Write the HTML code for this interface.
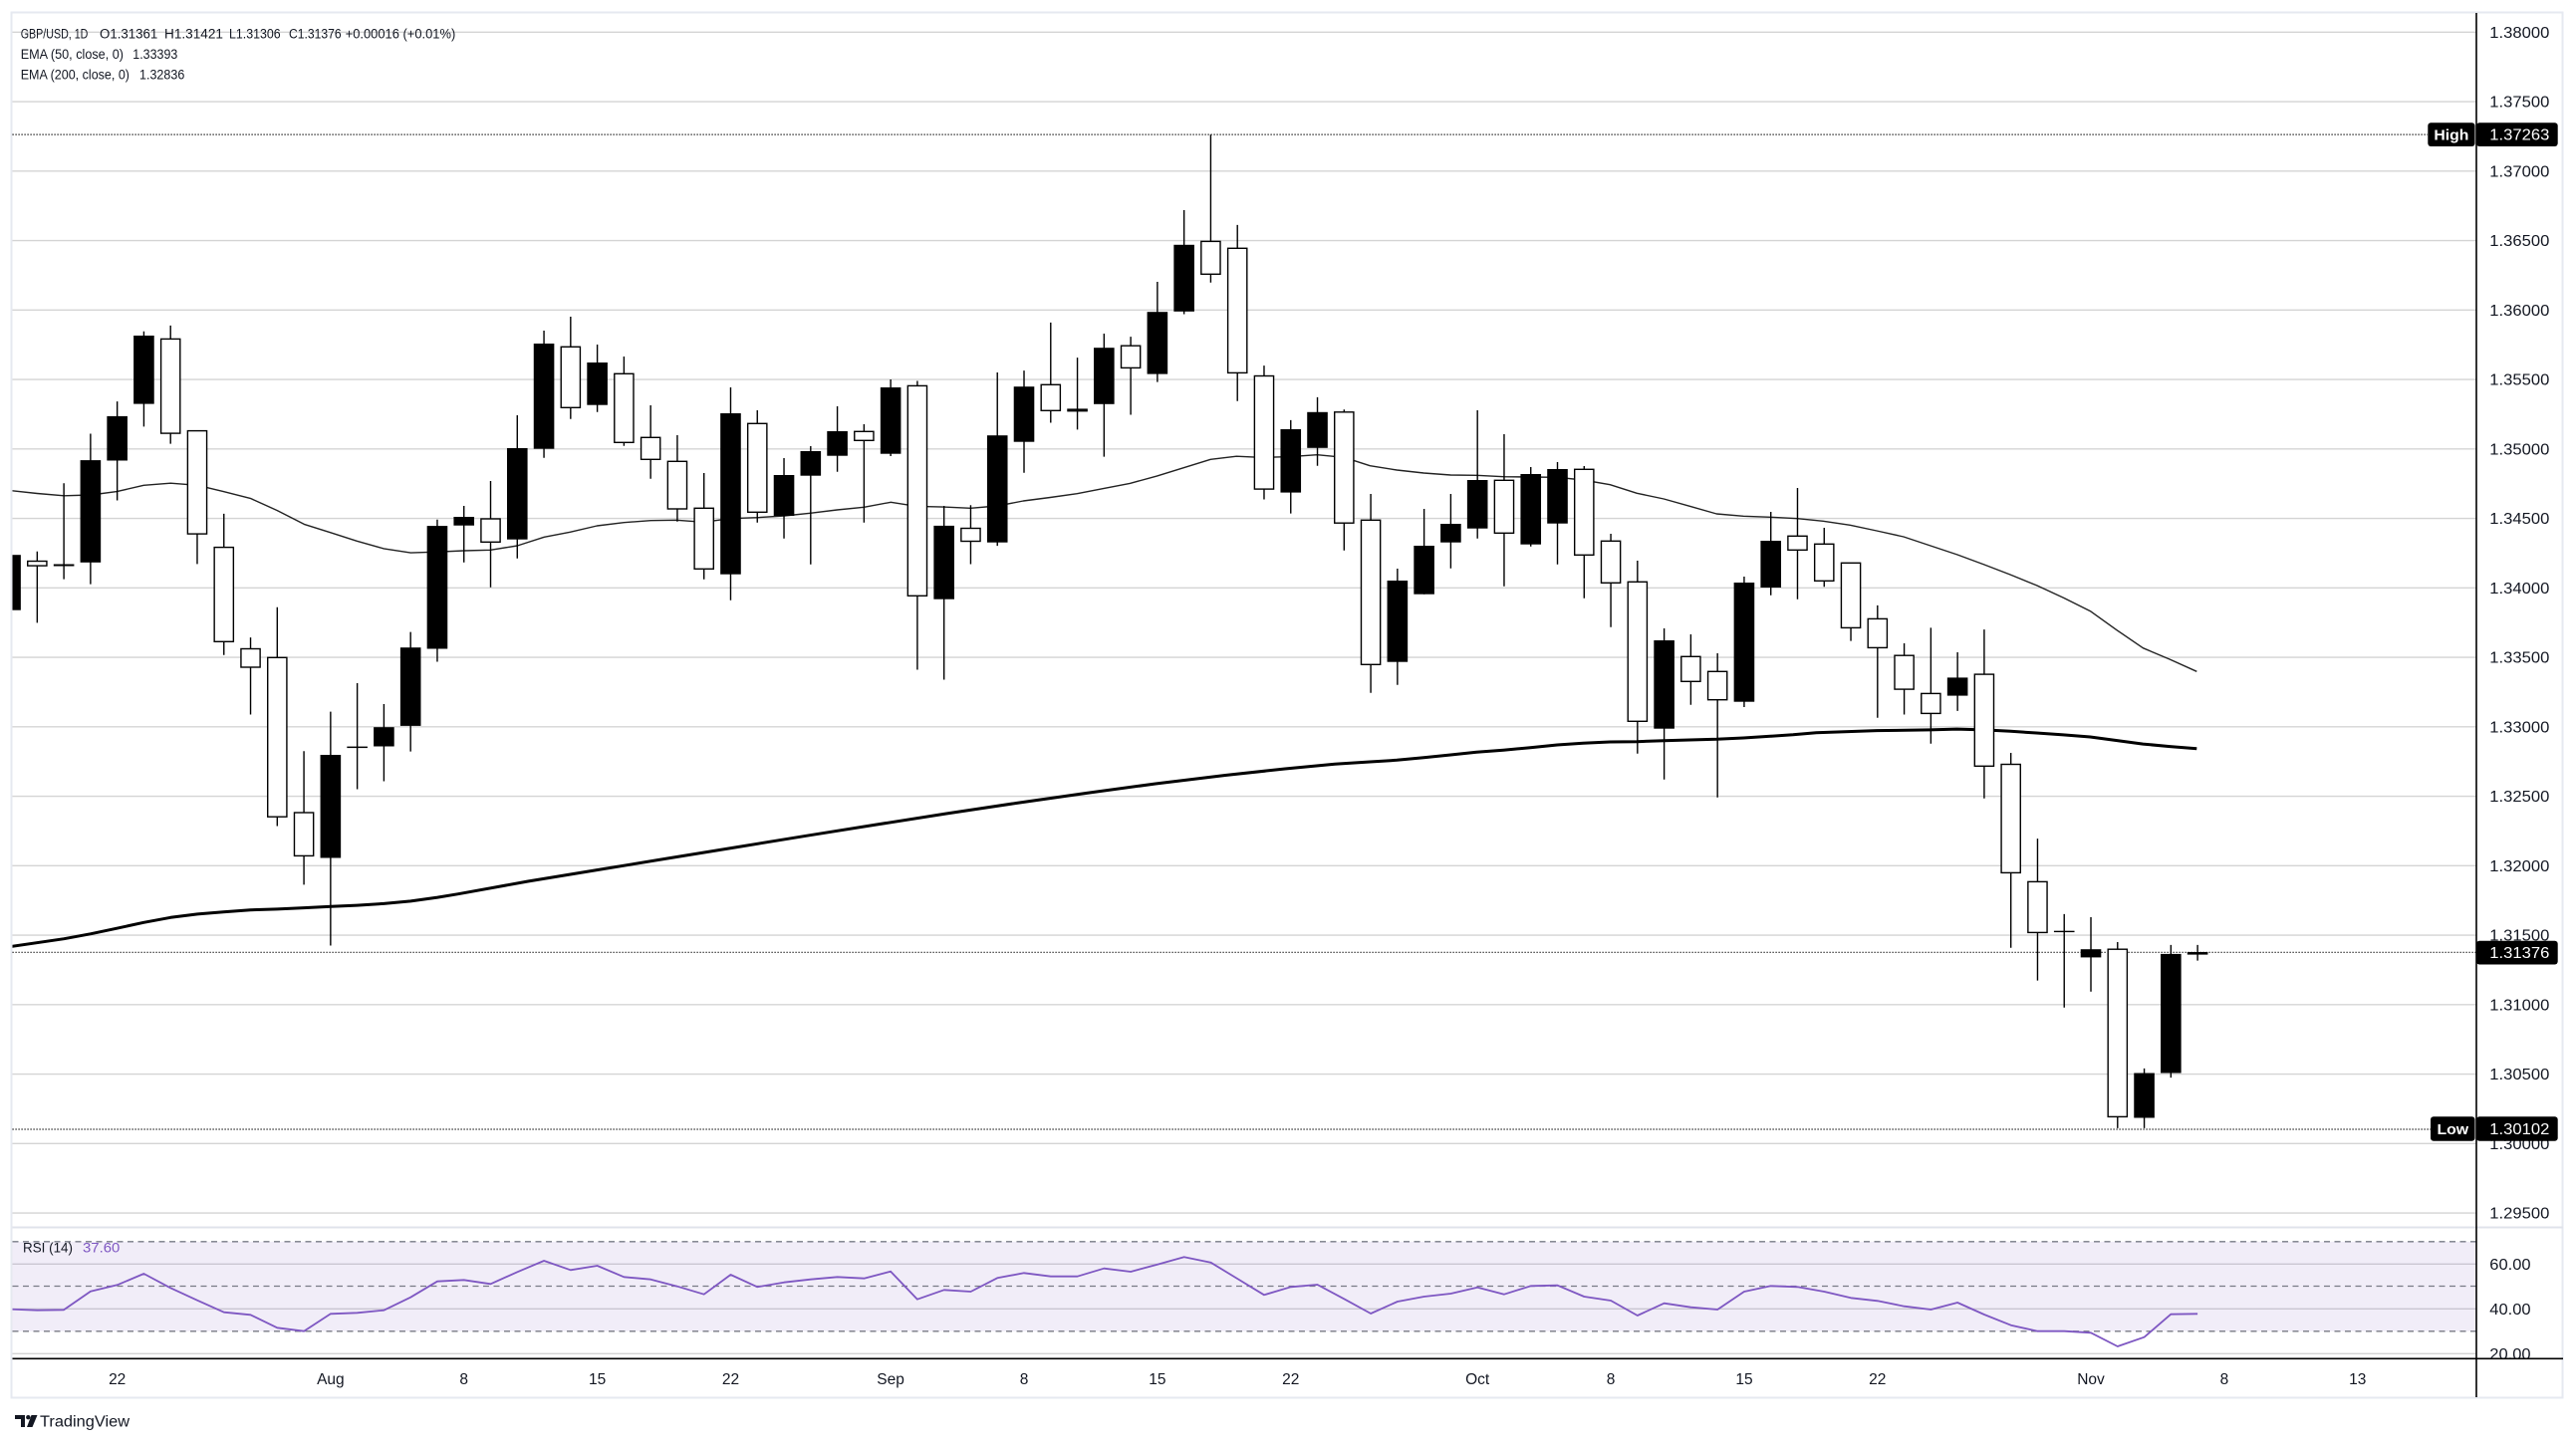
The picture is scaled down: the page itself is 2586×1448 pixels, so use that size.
<!DOCTYPE html>
<html><head><meta charset="utf-8"><style>
html,body{margin:0;padding:0;background:#fff;}
svg{display:block;font-family:"Liberation Sans",sans-serif;}
</style></head><body>
<svg width="2586" height="1448" viewBox="0 0 2586 1448" xmlns="http://www.w3.org/2000/svg">
<defs>
<clipPath id="pp"><rect x="12.5" y="13" width="2473" height="1219"/></clipPath>
<clipPath id="rp"><rect x="12.5" y="1233" width="2473" height="131"/></clipPath>
<clipPath id="ra"><rect x="2487" y="1233" width="86" height="131"/></clipPath>
</defs>
<rect x="0" y="0" width="2586" height="1448" fill="#fff"/>
<!-- frame -->
<rect x="11.5" y="12.5" width="2561" height="1391" fill="none" stroke="#e6e9f0" stroke-width="2"/>
<!-- price grid -->
<g stroke="#d4d4d4" stroke-width="1.3">
<line x1="12.5" x2="2486" y1="32.3" y2="32.3"/><line x1="12.5" x2="2486" y1="102.05" y2="102.05"/><line x1="12.5" x2="2486" y1="171.8" y2="171.8"/><line x1="12.5" x2="2486" y1="241.55" y2="241.55"/><line x1="12.5" x2="2486" y1="311.3" y2="311.3"/><line x1="12.5" x2="2486" y1="381.05" y2="381.05"/><line x1="12.5" x2="2486" y1="450.8" y2="450.8"/><line x1="12.5" x2="2486" y1="520.55" y2="520.55"/><line x1="12.5" x2="2486" y1="590.3" y2="590.3"/><line x1="12.5" x2="2486" y1="660.05" y2="660.05"/><line x1="12.5" x2="2486" y1="729.8" y2="729.8"/><line x1="12.5" x2="2486" y1="799.55" y2="799.55"/><line x1="12.5" x2="2486" y1="869.3" y2="869.3"/><line x1="12.5" x2="2486" y1="939.05" y2="939.05"/><line x1="12.5" x2="2486" y1="1008.8" y2="1008.8"/><line x1="12.5" x2="2486" y1="1078.55" y2="1078.55"/><line x1="12.5" x2="2486" y1="1148.3" y2="1148.3"/><line x1="12.5" x2="2486" y1="1218.05" y2="1218.05"/>
</g>
<!-- dotted lines -->
<g stroke="#000" stroke-width="1.2" stroke-dasharray="1.2 1.8">
<line x1="12.5" x2="2437" y1="135.1" y2="135.1"/>
<line x1="12.5" x2="2486" y1="956.3" y2="956.3"/>
<line x1="12.5" x2="2440" y1="1134" y2="1134"/>
</g>
<g clip-path="url(#pp)">
<!-- EMA 200 -->
<polyline fill="none" stroke="#000" stroke-width="3" stroke-linejoin="round" points="12,950.3 64.3,942.7 91.3,937.7 117.3,932.2 144.3,926.3 171.3,921.3 198.3,917.9 224.3,915.8 251.3,913.7 278.3,912.9 305.3,911.6 332.3,910.3 358.3,909.1 385.3,907.4 412.3,904.9 439.3,901.1 460,897.7 530,885 600,873.5 670,862 740,850.6 810,839.2 880,828 950,817 1020,806.5 1090,796.5 1160,787 1230,778.5 1290,772 1340,767.3 1375.3,765 1402.3,763.3 1429.3,760.7 1456.3,758 1482.3,755.3 1509.3,753.3 1536.3,750.7 1563.3,748 1589.3,746.3 1616.3,745 1643.3,744.7 1670.3,743.7 1696.3,743 1723.3,742.3 1750.3,741 1777.3,739.3 1800,737.8 1823.3,735.7 1884.3,733.6 1937.3,732.9 1964.3,732.1 1991.3,732.9 2018.3,734.3 2044.3,736 2071.3,737.9 2098.3,740 2125.3,743.6 2151.3,747.1 2178.3,749.6 2205.3,751.8"/>
<!-- EMA 50 -->
<polyline fill="none" stroke="#222" stroke-width="1.4" stroke-linejoin="round" points="12,492.8 37.3,495.5 64.3,497.8 91.3,497 117.3,493.6 144.3,487.3 171.3,485.2 198.3,487.3 224.3,493.6 251.3,500.4 278.3,512.6 305.3,526.4 332.3,534.9 358.3,543.3 385.3,550.9 412.3,555.1 439.3,554.2 465.3,553 492.3,552.3 519.3,548 546.3,539.3 572.3,534.3 599.3,528 626.3,524.7 653.3,522.7 679.3,522.3 706.3,524.3 733.3,520.7 760.3,519.7 787.3,518 813.3,515.3 840.3,512 867.3,509.3 894.3,504.3 920.3,508.4 947.3,509.1 974.3,510.3 1001.3,508 1027.3,503 1054.3,499.5 1081.3,495.7 1108.3,490.4 1134.3,485.4 1161.3,478.1 1188.3,469.7 1215.3,461.3 1241.3,458.2 1268.3,459.4 1295.3,458.6 1322.3,456.7 1349.3,459.3 1375.3,467.7 1402.3,472 1429.3,475 1456.3,477 1482.3,477.3 1509.3,478.7 1536.3,479 1563.3,479.3 1589.3,482 1616.3,486.7 1643.3,495.3 1670.3,501 1696.3,508.3 1723.3,516 1750.3,518.3 1777.3,519.3 1804.3,520.7 1830.3,523.3 1857.3,527.3 1884,533 1911,539 1938,548 1965,557 1992,567 2018,577 2045,588 2072,600.5 2098.3,613.6 2125.3,632.9 2151.3,650.7 2178.3,662.1 2205.3,674.3"/>
<!-- wicks -->
<path fill="none" stroke="#000" stroke-width="1.4" d="M10.56 553V616M37.33 553.8V625.4M64.11 485.2V581.6M90.88 435.5V586.6M117.66 403.1V502.5M144.43 332.8V428.4M171.21 326.9V445.6M197.98 432.6V566.4M224.76 515.9V657.8M251.53 640.1V717.5M278.31 609.8V829.5M305.08 754.2V888.4M331.86 714.6V949.5M358.63 686V792.5M385.41 707V784.5M412.18 634.6V754.6M438.96 521.8V664.5M465.73 508V564.7M492.51 483V589.7M519.28 417V560.7M546.06 332V459.7M572.83 318V420.7M599.61 346V413.7M626.38 358V447.7M653.16 407V480.7M679.93 437V523.7M706.71 475V581.7M733.48 389V602.7M760.26 412V524.7M787.03 460V540.7M813.81 448V566.7M840.58 408V473.7M867.36 426V524.7M894.13 381V458M920.91 382.5V672.5M947.68 508V682.5M974.46 507.2V566.5M1001.23 374V548.1M1028.01 372.1V474.7M1054.78 323.9V424.5M1081.56 359.1V431.4M1108.33 335V458.6M1135.11 338.1V416.5M1161.88 283V383.6M1188.66 211V315.5M1215.43 135.3V283.7M1242.21 225.9V402.7M1268.98 367.1V501.5M1295.76 421.9V515.6M1322.53 398.9V467.8M1349.31 411.2V552.7M1376.08 496V695.7M1402.86 571V687.7M1429.63 511V596.7M1456.41 496V570.7M1483.18 412V540.7M1509.96 436V588.7M1536.73 469V548.7M1563.51 464V566.7M1590.28 468V600.7M1617.06 536V629.7M1643.83 563V756.7M1670.61 631V782.7M1697.38 637V707.7M1724.16 656V800.7M1750.93 579V710M1777.71 514V597.7M1804.48 490V601.7M1831.26 530V589.3M1858.03 565.3V643.6M1884.81 607.9V720.7M1911.58 646V717.5M1938.36 630.4V746.8M1965.13 655V713.9M1991.91 632.1V801.8M2018.68 756V951.8M2045.46 842.1V984.6M2072.23 917.9V1011.8M2099.01 921V995.7M2125.78 946V1132.9M2152.56 1072.9V1132.9M2179.33 948.9V1082.1M2206.11 948.9V964.6"/>
<!-- up (filled) bodies -->
<g fill="#000">
<rect x="0.26" y="557.2" width="20.6" height="55.5"/>
<rect x="53.81" y="566.5" width="20.6" height="2"/>
<rect x="80.58" y="462.1" width="20.6" height="102.7"/>
<rect x="107.36" y="417.9" width="20.6" height="44.6"/>
<rect x="134.13" y="337" width="20.6" height="68.6"/>
<rect x="321.56" y="758" width="20.6" height="103.5"/>
<rect x="348.33" y="749.6" width="20.6" height="1.5"/>
<rect x="375.11" y="730.2" width="20.6" height="19.3"/>
<rect x="401.88" y="650.2" width="20.6" height="78.7"/>
<rect x="428.66" y="528.1" width="20.6" height="123.4"/>
<rect x="455.43" y="519" width="20.6" height="8.7"/>
<rect x="508.98" y="450" width="20.6" height="91.7"/>
<rect x="535.76" y="345" width="20.6" height="105.7"/>
<rect x="589.31" y="364" width="20.6" height="42.7"/>
<rect x="723.18" y="415" width="20.6" height="161.7"/>
<rect x="776.73" y="477" width="20.6" height="41"/>
<rect x="803.51" y="453" width="20.6" height="24.7"/>
<rect x="830.28" y="433" width="20.6" height="24.7"/>
<rect x="883.83" y="389" width="20.6" height="66.7"/>
<rect x="937.38" y="527.9" width="20.6" height="73.8"/>
<rect x="990.93" y="437.2" width="20.6" height="107.5"/>
<rect x="1017.71" y="388.2" width="20.6" height="55.5"/>
<rect x="1071.26" y="410.4" width="20.6" height="3"/>
<rect x="1098.03" y="349.2" width="20.6" height="56.6"/>
<rect x="1151.58" y="313.2" width="20.6" height="62.4"/>
<rect x="1178.36" y="245.8" width="20.6" height="67"/>
<rect x="1285.46" y="431" width="20.6" height="63.6"/>
<rect x="1312.23" y="413.8" width="20.6" height="36"/>
<rect x="1392.56" y="583" width="20.6" height="81.7"/>
<rect x="1419.33" y="548" width="20.6" height="48.7"/>
<rect x="1446.11" y="526" width="20.6" height="18.7"/>
<rect x="1472.88" y="482" width="20.6" height="48.7"/>
<rect x="1526.43" y="476" width="20.6" height="70.7"/>
<rect x="1553.21" y="471" width="20.6" height="54.7"/>
<rect x="1660.31" y="643" width="20.6" height="88.7"/>
<rect x="1740.63" y="585" width="20.6" height="119.7"/>
<rect x="1767.41" y="543" width="20.6" height="47"/>
<rect x="1954.83" y="680.4" width="20.6" height="18.2"/>
<rect x="2061.93" y="934.7" width="20.6" height="1.4"/>
<rect x="2088.71" y="953.2" width="20.6" height="8.2"/>
<rect x="2142.26" y="1077.5" width="20.6" height="45"/>
<rect x="2169.03" y="957.9" width="20.6" height="119.6"/>
<rect x="2195.81" y="956" width="20.6" height="2.6"/>
</g>
<!-- down (hollow) bodies -->
<g fill="#fff" stroke="#000" stroke-width="1.4">
<rect x="27.73" y="563.5" width="19.2" height="4.6"/>
<rect x="161.61" y="340.4" width="19.2" height="94.7"/>
<rect x="188.38" y="432.6" width="19.2" height="103.5"/>
<rect x="215.16" y="549.6" width="19.2" height="94.7"/>
<rect x="241.93" y="651.5" width="19.2" height="18.5"/>
<rect x="268.71" y="660.3" width="19.2" height="159.9"/>
<rect x="295.48" y="816" width="19.2" height="43.4"/>
<rect x="482.91" y="521" width="19.2" height="23.3"/>
<rect x="563.23" y="348.3" width="19.2" height="61"/>
<rect x="616.78" y="375.3" width="19.2" height="69"/>
<rect x="643.56" y="439.3" width="19.2" height="22"/>
<rect x="670.33" y="463.3" width="19.2" height="47.7"/>
<rect x="697.11" y="510.3" width="19.2" height="61"/>
<rect x="750.66" y="425.3" width="19.2" height="89"/>
<rect x="857.76" y="433.3" width="19.2" height="9"/>
<rect x="911.31" y="387.4" width="19.2" height="210.9"/>
<rect x="964.86" y="530.5" width="19.2" height="13"/>
<rect x="1045.18" y="386.3" width="19.2" height="26"/>
<rect x="1125.51" y="347.2" width="19.2" height="22.2"/>
<rect x="1205.83" y="242.4" width="19.2" height="32.9"/>
<rect x="1232.61" y="249.3" width="19.2" height="125.1"/>
<rect x="1259.38" y="377.5" width="19.2" height="113.6"/>
<rect x="1339.71" y="413.8" width="19.2" height="111.4"/>
<rect x="1366.48" y="522.3" width="19.2" height="145"/>
<rect x="1500.36" y="482.3" width="19.2" height="53"/>
<rect x="1580.68" y="471.3" width="19.2" height="86"/>
<rect x="1607.46" y="543.3" width="19.2" height="42"/>
<rect x="1634.23" y="584.3" width="19.2" height="140"/>
<rect x="1687.78" y="659.3" width="19.2" height="25"/>
<rect x="1714.56" y="674.3" width="19.2" height="28.4"/>
<rect x="1794.88" y="538.3" width="19.2" height="14"/>
<rect x="1821.66" y="546.3" width="19.2" height="37"/>
<rect x="1848.43" y="565.3" width="19.2" height="65.1"/>
<rect x="1875.21" y="621.4" width="19.2" height="29"/>
<rect x="1901.98" y="658.2" width="19.2" height="33.9"/>
<rect x="1928.76" y="696.4" width="19.2" height="20"/>
<rect x="1982.31" y="677.1" width="19.2" height="92.2"/>
<rect x="2009.08" y="767.5" width="19.2" height="108.9"/>
<rect x="2035.86" y="885.4" width="19.2" height="51"/>
<rect x="2116.18" y="953.2" width="19.2" height="168.2"/>
</g>
</g>
<!-- legend -->
<g font-size="13.5" fill="#131722">
<text x="20.7" y="38.3" textLength="67.7" lengthAdjust="spacingAndGlyphs">GBP/USD, 1D</text>
<text x="100" y="38.3" textLength="58.3" lengthAdjust="spacingAndGlyphs">O1.31361</text>
<text x="165" y="38.3" textLength="59" lengthAdjust="spacingAndGlyphs">H1.31421</text>
<text x="230" y="38.3" textLength="51.7" lengthAdjust="spacingAndGlyphs">L1.31306</text>
<text x="290" y="38.3" textLength="52.7" lengthAdjust="spacingAndGlyphs">C1.31376</text>
<text x="346.7" y="38.3" textLength="110.6" lengthAdjust="spacingAndGlyphs">+0.00016 (+0.01%)</text>
<text x="20.7" y="58.8" textLength="103.3" lengthAdjust="spacingAndGlyphs">EMA (50, close, 0)</text>
<text x="133.3" y="58.8" textLength="45" lengthAdjust="spacingAndGlyphs">1.33393</text>
<text x="20.7" y="79.3" textLength="109.3" lengthAdjust="spacingAndGlyphs">EMA (200, close, 0)</text>
<text x="140" y="79.3" textLength="45.3" lengthAdjust="spacingAndGlyphs">1.32836</text>
</g>
<!-- pane separator -->
<line x1="12.5" x2="2573" y1="1232.5" y2="1232.5" stroke="#e0e3eb" stroke-width="2"/>
<!-- RSI pane -->
<g stroke="#d4d4d4" stroke-width="1.3">
<line x1="12.5" x2="2486" y1="1269.3" y2="1269.3"/>
<line x1="12.5" x2="2486" y1="1314.3" y2="1314.3"/>
<line x1="12.5" x2="2486" y1="1359.3" y2="1359.3"/>
</g>
<rect x="12.5" y="1246.8" width="2473.5" height="90" fill="rgba(126,87,194,0.11)"/>
<g stroke="#787b86" stroke-width="1.3" stroke-dasharray="6 4.5">
<line x1="12.5" x2="2486" y1="1246.8" y2="1246.8"/>
<line x1="12.5" x2="2486" y1="1291.5" y2="1291.5"/>
<line x1="12.5" x2="2486" y1="1336.8" y2="1336.8"/>
</g>
<g clip-path="url(#rp)">
<polyline fill="none" stroke="#7e57c2" stroke-width="1.8" stroke-linejoin="round" points="10.6,1314.7 37.3,1315.7 64.1,1315.3 90.9,1296.7 117.7,1290.3 144.4,1279 171.2,1293.3 198,1305.7 224.8,1317.7 251.5,1320.3 278.3,1333.3 305.1,1336.7 331.9,1319.3 358.6,1318.3 385.4,1315.7 412.2,1302.7 439,1286.7 465.7,1285.3 492.5,1289.3 519.3,1277.3 546.1,1266 572.8,1275.3 599.6,1271 626.4,1282.3 653.2,1284.7 679.9,1291.7 706.7,1299.7 733.5,1280 760.3,1292.3 787,1287.7 813.8,1284.7 840.6,1282.3 867.4,1283.7 894.1,1276.7 920.9,1304.7 947.7,1295.3 974.5,1297 1001.2,1283.3 1028,1278.3 1054.8,1281.7 1081.6,1281.7 1108.3,1273.7 1135.1,1277 1161.9,1269.7 1188.7,1262.3 1215.4,1267.7 1242.2,1284 1269,1300.3 1295.8,1292.3 1322.5,1290 1349.3,1304.3 1376.1,1319 1402.9,1307 1429.6,1302 1456.4,1299 1483.2,1292.7 1510,1299.7 1536.7,1291.3 1563.5,1290.7 1590.3,1302 1617.1,1306 1643.8,1321 1670.6,1308.7 1697.4,1312.7 1724.2,1315 1750.9,1297 1777.7,1291.3 1804.5,1292.3 1831.3,1297 1858,1303.3 1884.8,1306.3 1911.6,1311.7 1938.4,1315 1965.1,1308 1991.9,1320 2018.7,1330.7 2045.5,1336.7 2072.2,1336.7 2099,1338.3 2125.8,1352 2152.6,1342.7 2179.3,1319.7 2206.1,1319.3"/>
</g>
<text x="23" y="1257.5" font-size="13.5" fill="#131722" textLength="50" lengthAdjust="spacingAndGlyphs">RSI (14)</text>
<text x="83" y="1257.5" font-size="13.5" fill="#7e57c2" textLength="37.3" lengthAdjust="spacingAndGlyphs">37.60</text>
<!-- axes lines -->
<line x1="2486" x2="2486" y1="13" y2="1403" stroke="#000" stroke-width="1.6"/>
<line x1="12.5" x2="2573" y1="1364.3" y2="1364.3" stroke="#000" stroke-width="1.6"/>
<!-- right price axis labels -->
<g font-size="15.5" fill="#131722">
<text x="2499.3" y="37.8" textLength="60" lengthAdjust="spacingAndGlyphs">1.38000</text>
<text x="2499.3" y="107.5" textLength="60" lengthAdjust="spacingAndGlyphs">1.37500</text>
<text x="2499.3" y="177.3" textLength="60" lengthAdjust="spacingAndGlyphs">1.37000</text>
<text x="2499.3" y="247" textLength="60" lengthAdjust="spacingAndGlyphs">1.36500</text>
<text x="2499.3" y="316.8" textLength="60" lengthAdjust="spacingAndGlyphs">1.36000</text>
<text x="2499.3" y="386.5" textLength="60" lengthAdjust="spacingAndGlyphs">1.35500</text>
<text x="2499.3" y="456.3" textLength="60" lengthAdjust="spacingAndGlyphs">1.35000</text>
<text x="2499.3" y="526" textLength="60" lengthAdjust="spacingAndGlyphs">1.34500</text>
<text x="2499.3" y="595.8" textLength="60" lengthAdjust="spacingAndGlyphs">1.34000</text>
<text x="2499.3" y="665.5" textLength="60" lengthAdjust="spacingAndGlyphs">1.33500</text>
<text x="2499.3" y="735.3" textLength="60" lengthAdjust="spacingAndGlyphs">1.33000</text>
<text x="2499.3" y="805" textLength="60" lengthAdjust="spacingAndGlyphs">1.32500</text>
<text x="2499.3" y="874.8" textLength="60" lengthAdjust="spacingAndGlyphs">1.32000</text>
<text x="2499.3" y="944.5" textLength="60" lengthAdjust="spacingAndGlyphs">1.31500</text>
<text x="2499.3" y="1014.3" textLength="60" lengthAdjust="spacingAndGlyphs">1.31000</text>
<text x="2499.3" y="1084" textLength="60" lengthAdjust="spacingAndGlyphs">1.30500</text>
<text x="2499.3" y="1153.8" textLength="60" lengthAdjust="spacingAndGlyphs">1.30000</text>
<text x="2499.3" y="1223.5" textLength="60" lengthAdjust="spacingAndGlyphs">1.29500</text>
</g>
<g clip-path="url(#ra)" font-size="15.5" fill="#131722">
<text x="2499.3" y="1274.8" textLength="41.3" lengthAdjust="spacingAndGlyphs">60.00</text>
<text x="2499.3" y="1319.8" textLength="41.3" lengthAdjust="spacingAndGlyphs">40.00</text>
<text x="2499.3" y="1364.8" textLength="41.3" lengthAdjust="spacingAndGlyphs">20.00</text>
</g>
<!-- price tags -->
<rect x="2437.3" y="123.3" width="47.2" height="23.7" rx="3" fill="#000"/>
<text x="2460.9" y="140.6" font-size="15" font-weight="bold" fill="#fff" text-anchor="middle" textLength="35" lengthAdjust="spacingAndGlyphs">High</text>
<rect x="2486" y="123.3" width="81.7" height="23.7" rx="3" fill="#000"/>
<text x="2499.3" y="140.6" font-size="15.5" fill="#fff" textLength="60" lengthAdjust="spacingAndGlyphs">1.37263</text>
<rect x="2486" y="944.7" width="81.7" height="23.8" rx="3" fill="#000"/>
<text x="2499.3" y="962" font-size="15.5" fill="#fff" textLength="60" lengthAdjust="spacingAndGlyphs">1.31376</text>
<rect x="2440" y="1121.3" width="44.5" height="24.4" rx="3" fill="#000"/>
<text x="2462.3" y="1138.9" font-size="15" font-weight="bold" fill="#fff" text-anchor="middle" textLength="31.6" lengthAdjust="spacingAndGlyphs">Low</text>
<rect x="2486" y="1121.3" width="81.7" height="24.4" rx="3" fill="#000"/>
<text x="2499.3" y="1138.9" font-size="15.5" fill="#fff" textLength="60" lengthAdjust="spacingAndGlyphs">1.30102</text>
<!-- time axis labels -->
<g font-size="15.5" fill="#131722" text-anchor="middle">
<text x="117.7" y="1390">22</text>
<text x="331.9" y="1390">Aug</text>
<text x="465.7" y="1390">8</text>
<text x="599.6" y="1390">15</text>
<text x="733.5" y="1390">22</text>
<text x="894.1" y="1390">Sep</text>
<text x="1028" y="1390">8</text>
<text x="1161.9" y="1390">15</text>
<text x="1295.8" y="1390">22</text>
<text x="1483.2" y="1390">Oct</text>
<text x="1617.1" y="1390">8</text>
<text x="1751" y="1390">15</text>
<text x="1884.8" y="1390">22</text>
<text x="2099" y="1390">Nov</text>
<text x="2232.9" y="1390">8</text>
<text x="2366.8" y="1390">13</text>
</g>
<!-- TradingView logo -->
<g fill="#131722">
<path d="M15 1421h10v12h-4v-8h-6z"/>
<circle cx="28.3" cy="1423.2" r="2.2"/>
<path d="M31.5 1421h6l-5 12h-5.5z"/>
</g>
<text x="40" y="1432.5" font-size="15.5" fill="#131722" textLength="90" lengthAdjust="spacingAndGlyphs">TradingView</text>
</svg>
</body></html>
